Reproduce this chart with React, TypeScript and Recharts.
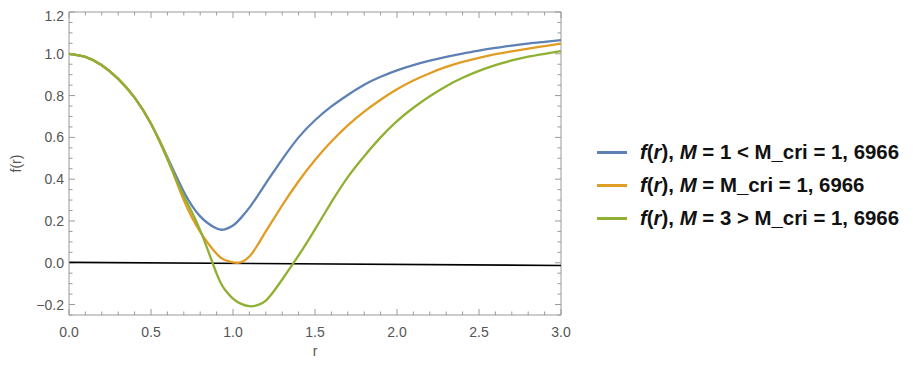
import { Legend, Line, LineChart, ReferenceLine, XAxis, YAxis } from "recharts";

// sample radii shared by the three curves
const rValues = [
  0, 0.1, 0.2, 0.3, 0.4, 0.5, 0.6, 0.7, 0.8, 0.9, 0.95, 1.0, 1.05, 1.1, 1.15, 1.2, 1.25, 1.3, 1.4, 1.5,
  1.6, 1.7, 1.8, 1.9, 2.0, 2.1, 2.2, 2.3, 2.4, 2.5, 2.6, 2.7, 2.8, 2.9, 3.0,
];
const blueF = [
  1.0, 0.985, 0.945, 0.88, 0.79, 0.665, 0.505, 0.34, 0.222, 0.164, 0.16, 0.178, 0.216, 0.264, 0.32,
  0.38, 0.438, 0.495, 0.6, 0.682, 0.748, 0.803, 0.852, 0.89, 0.921, 0.946, 0.967, 0.985, 1.001, 1.015,
  1.028, 1.039, 1.049, 1.057, 1.065,
];
const orangeF = [
  1.0, 0.985, 0.945, 0.88, 0.79, 0.665, 0.5, 0.3, 0.148, 0.043, 0.013, 0.002, 0.003, 0.03, 0.085,
  0.15, 0.212, 0.275, 0.39, 0.492, 0.58, 0.657, 0.723, 0.78, 0.83, 0.872, 0.907, 0.937, 0.961, 0.981,
  0.998, 1.012, 1.025, 1.037, 1.049,
];
const greenF = [
  1.0, 0.985, 0.945, 0.88, 0.79, 0.665, 0.495, 0.32, 0.155, -0.052, -0.128, -0.172, -0.197, -0.208,
  -0.203, -0.181, -0.135, -0.08, 0.035, 0.16, 0.29, 0.41, 0.51, 0.6, 0.678, 0.742, 0.797, 0.845, 0.885,
  0.918, 0.946, 0.968, 0.986, 1.0, 1.013,
];
// the thin black reference line
const zeroR = [0, 3];
const zeroF = [0.002, -0.013];

const xTicks = [0, 0.5, 1, 1.5, 2, 2.5, 3];
const yTicks = [-0.2, 0, 0.2, 0.4, 0.6, 0.8, 1.0, 1.2];
const xMinorStep = 0.1;
const yMinorStep = 0.05;

const X_DOMAIN: [number, number] = [0, 3];
const Y_DOMAIN: [number, number] = [-0.25, 1.2];

const series = [
  { key: "blue", color: "#5e81b5", rest: " = 1 < M_cri = 1, 6966" },
  { key: "orange", color: "#e19c24", rest: " = M_cri = 1, 6966" },
  { key: "green", color: "#8fb032", rest: " = 3 > M_cri = 1, 6966" },
];

const chartData = rValues.map((r, i) => ({
  r,
  blue: blueF[i],
  orange: orangeF[i],
  green: greenF[i],
}));
const zeroData = zeroR.map((r, i) => ({ r, zero: zeroF[i] }));

const FRAME = "#9a9a9a";
const LABEL = "#555";
const FONT = "'Liberation Sans', Arial, sans-serif";

// tick lengths in data units (plot is ~492 x 303 px)
const xPerPx = 3 / 492;
const yPerPx = 1.45 / 303;

const round = (v: number) => Math.round(v * 1000) / 1000;
const isMajor = (v: number, list: number[]) => list.some((t) => Math.abs(t - v) < 1e-6);

const xMinor: number[] = [];
for (let v = X_DOMAIN[0]; v <= X_DOMAIN[1] + 1e-9; v += xMinorStep) xMinor.push(round(v));
const yMinor: number[] = [];
for (let v = Y_DOMAIN[0]; v <= Y_DOMAIN[1] + 1e-9; v += yMinorStep) yMinor.push(round(v));

const fmtY = (v: number) => (v < -1e-9 ? "\u2212" + Math.abs(v).toFixed(1) : Math.abs(v).toFixed(1));

function LegendBox() {
  return (
    <div style={{ fontFamily: FONT, fontWeight: "bold", fontSize: 20.4, color: "#111" }}>
      {series.map((s) => (
        <div key={s.key} style={{ display: "flex", alignItems: "center", height: 33, whiteSpace: "nowrap" }}>
          <div style={{ width: 30, height: 2.5, background: s.color, marginRight: 13 }} />
          <span>
            <i>f</i>(<i>r</i>), <i>M</i>
            {s.rest}
          </span>
        </div>
      ))}
    </div>
  );
}

export default function App() {
  const tickLines: JSX.Element[] = [];
  xMinor.forEach((v) => {
    const len = (isMajor(v, xTicks) ? 6 : 3.5) * yPerPx;
    tickLines.push(
      <ReferenceLine key={`xb${v}`} segment={[{ x: v, y: Y_DOMAIN[0] }, { x: v, y: Y_DOMAIN[0] + len }]} stroke={FRAME} />,
      <ReferenceLine key={`xt${v}`} segment={[{ x: v, y: Y_DOMAIN[1] }, { x: v, y: Y_DOMAIN[1] - len }]} stroke={FRAME} />,
    );
  });
  yMinor.forEach((v) => {
    const len = (isMajor(v, yTicks) ? 6 : 3.5) * xPerPx;
    tickLines.push(
      <ReferenceLine key={`yl${v}`} segment={[{ x: X_DOMAIN[0], y: v }, { x: X_DOMAIN[0] + len, y: v }]} stroke={FRAME} />,
      <ReferenceLine key={`yr${v}`} segment={[{ x: X_DOMAIN[1], y: v }, { x: X_DOMAIN[1] - len, y: v }]} stroke={FRAME} />,
    );
  });

  return (
    <LineChart width={905} height={360} data={chartData} margin={{ top: 4, right: 36, bottom: 0, left: 0 }}>
      <XAxis
        dataKey="r"
        type="number"
        domain={X_DOMAIN}
        ticks={xTicks}
        tickFormatter={(v: number) => v.toFixed(1)}
        tickLine={false}
        tickSize={0}
        tickMargin={12}
        axisLine={{ stroke: FRAME }}
        height={53}
        tick={{ fill: LABEL, fontSize: 14, fontFamily: FONT }}
        label={{ value: "r", position: "insideBottom", offset: 12, fill: LABEL, fontSize: 14, fontFamily: FONT }}
      />
      <YAxis
        type="number"
        domain={Y_DOMAIN}
        ticks={yTicks}
        tickFormatter={fmtY}
        tickLine={false}
        tickSize={0}
        tickMargin={5}
        axisLine={{ stroke: FRAME }}
        width={61}
        tick={{ fill: LABEL, fontSize: 14, fontFamily: FONT }}
        label={{
          value: "f(r)",
          angle: -90,
          position: "insideLeft",
          offset: 8,
          fill: LABEL,
          fontSize: 14,
          fontFamily: FONT,
          style: { textAnchor: "middle" },
        }}
      />
      <ReferenceLine y={Y_DOMAIN[1]} stroke={FRAME} />
      <ReferenceLine x={X_DOMAIN[1]} stroke={FRAME} />
      {tickLines}
      <Line
        data={zeroData}
        dataKey="zero"
        type="linear"
        stroke="#000"
        strokeWidth={1.6}
        dot={false}
        legendType="none"
        isAnimationActive={false}
      />
      {series.map((s) => (
        <Line
          key={s.key}
          dataKey={s.key}
          type="natural"
          stroke={s.color}
          strokeWidth={2.3}
          dot={false}
          isAnimationActive={false}
        />
      ))}
      <Legend
        layout="vertical"
        align="right"
        verticalAlign="middle"
        width={316}
        wrapperStyle={{ left: 589, top: 128, width: 316 }}
        content={() => <LegendBox />}
      />
    </LineChart>
  );
}
